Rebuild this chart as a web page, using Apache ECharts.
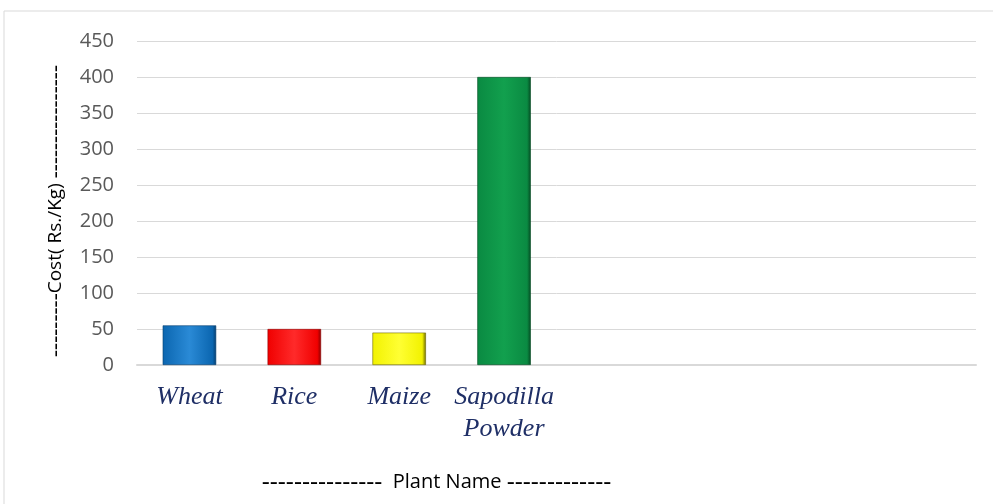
<!DOCTYPE html>
<html>
<head>
<meta charset="utf-8">
<script src="https://cdn.jsdelivr.net/npm/echarts@6/dist/echarts.min.js"></script>
<style>
  html, body { margin: 0; padding: 0; background: #fff; }
  #chart { width: 993px; height: 504px; }
</style>
</head>
<body>
<div id="chart"></div>
<script>
// categories (the last four slots are empty in the original)
const plantNames = ["Wheat", "Rice", "Maize", "Sapodilla\nPowder", "", "", "", ""];
const costValues = [55, 50, 45, 400, "-", "-", "-", "-"];
const barColors = [
  ["#2a8ad6", "#0b66b0", "#063f70"],
  ["#ff2a2a", "#f00000", "#8a0000"],
  ["#ffff33", "#f2f200", "#6e6a00"],
  ["#12a04e", "#0a8a42", "#044a22"],
];

const yTicks = { min: 0, max: 450, interval: 50 };

function bevel(c) {
  return new echarts.graphic.LinearGradient(0, 0, 1, 0, [
    { offset: 0, color: c[1] },
    { offset: 0.5, color: c[0] },
    { offset: 0.93, color: c[1] },
    { offset: 1, color: c[2] },
  ]);
}

const chart = echarts.init(document.getElementById("chart"));

const option = {
  backgroundColor: "#fff",
  animation: false,
  graphic: [
    {
      type: "rect",
      shape: { x: 4, y: 11, width: 1000, height: 520 },
      style: { fill: "none", stroke: "#d9d9d9", lineWidth: 1 },
      silent: true,
    },
  ],
  grid: { left: 137, right: 17, top: 41, bottom: 139 },
  xAxis: {
    type: "category",
    data: plantNames,
    axisTick: { show: false },
    axisLine: { lineStyle: { color: "#d9d9d9", width: 2 } },
    axisLabel: {
      interval: 0,
      margin: 16,
      color: "#1f2f66",
      fontFamily: "Liberation Serif",
      fontStyle: "italic",
      fontSize: 26,
      lineHeight: 32,
    },
    name: "{d|---------------}  Plant Name {d|-------------}",
    nameLocation: "middle",
    nameGap: 105,
    nameTextStyle: {
      color: "#000",
      fontFamily: "Open Sans",
      fontSize: 20,
      padding: [0, 240, 0, 0],
      rich: {
        d: { fontFamily: "Open Sans", fontSize: 25, color: "#000" },
      },
    },
  },
  yAxis: {
    type: "value",
    min: yTicks.min,
    max: yTicks.max,
    interval: yTicks.interval,
    axisLine: { show: false },
    axisTick: { show: false },
    splitLine: { lineStyle: { color: "#d9d9d9", width: 1 } },
    axisLabel: {
      margin: 23,
      color: "#595959",
      fontFamily: "Open Sans",
      fontSize: 20,
    },
    name: "{d|---------}Cost( Rs./Kg) {d|----------------}",
    nameLocation: "middle",
    nameGap: 70,
    nameTextStyle: {
      color: "#000",
      fontFamily: "Open Sans",
      fontSize: 19,
      padding: [0, 16, 0, 0],
      rich: {
        d: { fontFamily: "Open Sans", fontSize: 22, color: "#000" },
      },
    },
  },
  series: [
    {
      type: "bar",
      barWidth: "51%",
      data: costValues.map((v, i) =>
        i < barColors.length
          ? {
              value: v,
              itemStyle: {
                color: bevel(barColors[i]),
                borderColor: barColors[i][2],
                borderWidth: 0.6,
              },
            }
          : v
      ),
    },
  ],
};

chart.setOption(option);
</script>
</body>
</html>
